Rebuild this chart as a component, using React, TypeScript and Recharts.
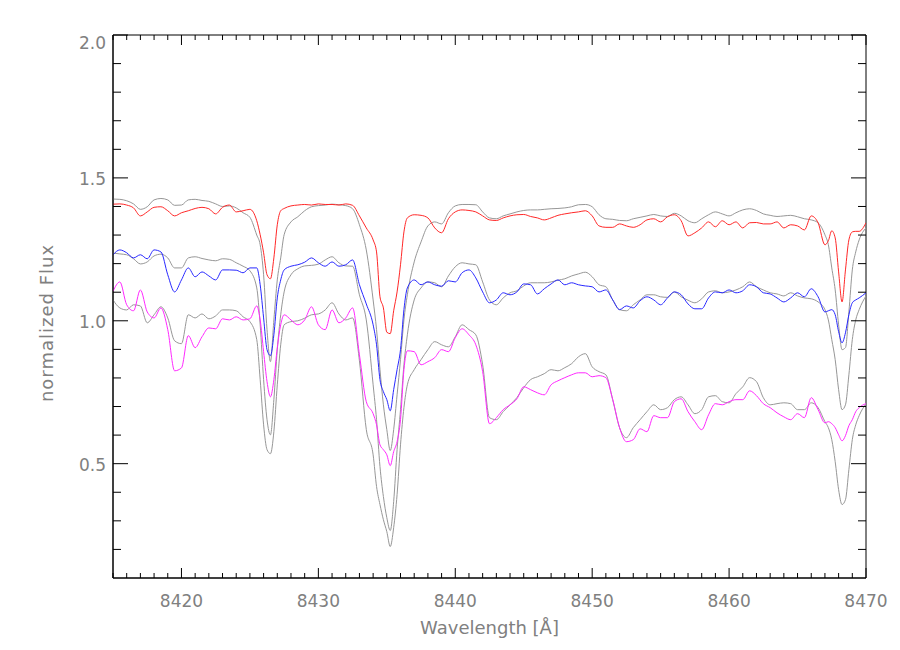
import { LineChart, Line, XAxis, YAxis, ReferenceArea } from 'recharts';

// wavelength grid (Å); finer steps around the three Ca II / line cores
const WAVE = [
  8415, 8415.5, 8416, 8416.5, 8417, 8417.5, 8418, 8418.5, 8419, 8419.5,
  8420, 8420.5, 8421, 8421.5, 8422, 8422.5, 8423, 8423.5, 8424, 8424.5,
  8425, 8425.5, 8425.75, 8426, 8426.25, 8426.5, 8426.75, 8427, 8427.25, 8427.5,
  8428, 8428.5, 8429, 8429.5, 8430, 8430.5, 8431, 8431.5, 8432, 8432.5,
  8433, 8433.5, 8434, 8434.25, 8434.5, 8434.75, 8435, 8435.25, 8435.5, 8435.75,
  8436, 8436.25, 8436.5, 8437, 8437.5, 8438, 8438.5, 8439, 8439.5, 8440,
  8440.5, 8441, 8441.5, 8442, 8442.5, 8443, 8443.5, 8444, 8444.5, 8445,
  8445.5, 8446, 8446.5, 8447, 8447.5, 8448, 8448.5, 8449, 8449.5, 8450,
  8450.5, 8451, 8451.5, 8452, 8452.5, 8453, 8453.5, 8454, 8454.5, 8455,
  8455.5, 8456, 8456.5, 8457, 8457.5, 8458, 8458.5, 8459, 8459.5, 8460,
  8460.5, 8461, 8461.5, 8462, 8462.5, 8463, 8463.5, 8464, 8464.5, 8465,
  8465.5, 8466, 8466.5, 8467, 8467.25, 8467.5, 8467.75, 8468, 8468.25, 8468.5,
  8468.75, 8469, 8469.25, 8469.5, 8470,
];

const RED = [
  1.408, 1.409, 1.405, 1.395, 1.367, 1.381, 1.397, 1.399, 1.385, 1.367,
  1.378, 1.385, 1.393, 1.397, 1.392, 1.374, 1.397, 1.405, 1.381, 1.385,
  1.390, 1.350, 1.301, 1.238, 1.161, 1.147, 1.220, 1.336, 1.385, 1.393,
  1.402, 1.405, 1.407, 1.405, 1.409, 1.407, 1.407, 1.405, 1.409, 1.404,
  1.367, 1.325, 1.283, 1.241, 1.084, 1.045, 0.960, 0.955, 1.035, 1.101,
  1.196, 1.311, 1.360, 1.371, 1.369, 1.360, 1.325, 1.308, 1.357, 1.381,
  1.388, 1.386, 1.381, 1.367, 1.353, 1.351, 1.360, 1.367, 1.371, 1.372,
  1.365, 1.360, 1.353, 1.360, 1.369, 1.374, 1.378, 1.381, 1.385, 1.367,
  1.332, 1.327, 1.327, 1.339, 1.332, 1.327, 1.336, 1.353, 1.357, 1.346,
  1.364, 1.371, 1.350, 1.297, 1.308, 1.325, 1.346, 1.329, 1.350, 1.336,
  1.346, 1.325, 1.343, 1.344, 1.339, 1.339, 1.346, 1.325, 1.336, 1.332,
  1.318, 1.367, 1.343, 1.266, 1.280, 1.315, 1.290, 1.171, 1.066, 1.178,
  1.283, 1.311, 1.313, 1.313, 1.343,
];

const MODEL_RED = [
  1.426, 1.425, 1.420, 1.409, 1.390, 1.399, 1.423, 1.428, 1.423, 1.404,
  1.405, 1.423, 1.425, 1.421, 1.418, 1.409, 1.400, 1.402, 1.395, 1.378,
  1.362, 1.300, 1.266, 1.161, 0.969, 0.857, 1.003, 1.143, 1.220, 1.301,
  1.346, 1.364, 1.385, 1.399, 1.403, 1.405, 1.408, 1.406, 1.403, 1.392,
  1.336, 1.248, 1.073, 0.969, 0.829, 0.706, 0.619, 0.546, 0.619, 0.741,
  0.864, 1.003, 1.091, 1.206, 1.276, 1.332, 1.346, 1.339, 1.378, 1.402,
  1.407, 1.407, 1.406, 1.381, 1.360, 1.357, 1.367, 1.374, 1.381, 1.386,
  1.388, 1.388, 1.390, 1.392, 1.393, 1.395, 1.399, 1.406, 1.407, 1.399,
  1.371, 1.357, 1.355, 1.351, 1.350, 1.357, 1.362, 1.367, 1.372, 1.367,
  1.365, 1.376, 1.367, 1.350, 1.343, 1.357, 1.371, 1.381, 1.374, 1.367,
  1.378, 1.388, 1.392, 1.386, 1.374, 1.369, 1.365, 1.367, 1.369, 1.364,
  1.357, 1.353, 1.343, 1.301, 1.266, 1.185, 1.108, 0.986, 0.899, 0.906,
  1.031, 1.178, 1.241, 1.283, 1.325,
];

const BLUE = [
  1.231, 1.248, 1.238, 1.220, 1.231, 1.217, 1.248, 1.241, 1.161, 1.101,
  1.143, 1.185, 1.154, 1.171, 1.157, 1.143, 1.178, 1.178, 1.177, 1.168,
  1.185, 1.185, 1.126, 1.010, 0.899, 0.878, 0.951, 1.080, 1.143, 1.178,
  1.191, 1.196, 1.205, 1.220, 1.203, 1.191, 1.206, 1.191, 1.196, 1.213,
  1.126, 1.059, 0.986, 0.916, 0.794, 0.752, 0.724, 0.685, 0.759, 0.829,
  0.899, 1.039, 1.115, 1.143, 1.126, 1.136, 1.126, 1.121, 1.140, 1.136,
  1.168, 1.178, 1.150, 1.101, 1.063, 1.073, 1.098, 1.091, 1.101, 1.129,
  1.126, 1.094, 1.112, 1.129, 1.143, 1.126, 1.133, 1.126, 1.122, 1.119,
  1.101, 1.108, 1.073, 1.039, 1.052, 1.045, 1.070, 1.084, 1.073, 1.056,
  1.080, 1.101, 1.091, 1.059, 1.042, 1.042, 1.080, 1.101, 1.098, 1.108,
  1.098, 1.105, 1.126, 1.119, 1.098, 1.094, 1.080, 1.066, 1.080, 1.098,
  1.084, 1.112, 1.084, 1.031, 1.035, 1.039, 1.021, 0.962, 0.923, 0.958,
  1.021, 1.063, 1.073, 1.080, 1.098,
];

const MODEL_BLUE = [
  1.237, 1.234, 1.231, 1.217, 1.199, 1.206, 1.227, 1.233, 1.220, 1.185,
  1.185, 1.220, 1.224, 1.218, 1.213, 1.210, 1.217, 1.215, 1.203, 1.191,
  1.175, 1.115, 0.986, 0.794, 0.654, 0.601, 0.724, 0.899, 1.021, 1.101,
  1.161, 1.182, 1.192, 1.194, 1.198, 1.213, 1.224, 1.203, 1.192, 1.191,
  1.091, 1.003, 0.776, 0.654, 0.490, 0.385, 0.311, 0.266, 0.367, 0.549,
  0.689, 0.846, 0.951, 1.073, 1.115, 1.136, 1.133, 1.119, 1.157, 1.189,
  1.203, 1.199, 1.196, 1.136, 1.073, 1.056, 1.080, 1.098, 1.105, 1.122,
  1.133, 1.133, 1.133, 1.136, 1.142, 1.147, 1.157, 1.164, 1.170, 1.154,
  1.126, 1.119, 1.073, 1.039, 1.035, 1.056, 1.073, 1.091, 1.091, 1.084,
  1.082, 1.101, 1.084, 1.072, 1.063, 1.077, 1.101, 1.105, 1.098, 1.101,
  1.108, 1.119, 1.136, 1.119, 1.108, 1.098, 1.094, 1.087, 1.098, 1.087,
  1.080, 1.077, 1.066, 1.039, 1.003, 0.934, 0.864, 0.759, 0.689, 0.706,
  0.811, 0.934, 1.003, 1.039, 1.087,
];

const MAGENTA = [
  1.103, 1.136, 1.056, 1.035, 1.108, 1.031, 1.010, 1.045, 0.969, 0.825,
  0.835, 0.948, 0.906, 0.944, 0.975, 0.972, 1.007, 1.003, 1.014, 1.003,
  1.007, 1.052, 1.003, 0.892, 0.787, 0.734, 0.794, 0.906, 0.986, 1.021,
  1.003, 0.986, 1.003, 1.049, 0.986, 0.969, 1.038, 0.993, 1.010, 1.045,
  0.881, 0.717, 0.675, 0.636, 0.566, 0.549, 0.531, 0.493, 0.542, 0.577,
  0.654, 0.829, 0.895, 0.892, 0.846, 0.857, 0.871, 0.899, 0.892, 0.941,
  0.972, 0.951, 0.916, 0.822, 0.640, 0.661, 0.689, 0.706, 0.727, 0.769,
  0.759, 0.748, 0.741, 0.776, 0.790, 0.801, 0.811, 0.818, 0.818, 0.804,
  0.808, 0.801, 0.724, 0.626, 0.577, 0.584, 0.622, 0.612, 0.668, 0.661,
  0.661, 0.717, 0.727, 0.682, 0.647, 0.619, 0.671, 0.710, 0.706, 0.717,
  0.724, 0.724, 0.755, 0.738, 0.710, 0.696, 0.678, 0.664, 0.654, 0.675,
  0.661, 0.731, 0.689, 0.643, 0.647, 0.640, 0.626, 0.601, 0.580, 0.598,
  0.633, 0.654, 0.682, 0.696, 0.710,
];

const MODEL_MAGENTA = [
  1.073, 1.045, 1.038, 1.056, 1.052, 0.993, 1.021, 1.049, 1.010, 0.930,
  0.920, 1.021, 1.010, 1.024, 1.007, 1.017, 1.038, 1.038, 1.035, 1.014,
  0.997, 0.934, 0.794, 0.636, 0.549, 0.535, 0.612, 0.776, 0.916, 0.986,
  0.997, 1.000, 1.009, 1.021, 1.024, 1.038, 1.063, 1.024, 1.003, 1.010,
  0.860, 0.620, 0.531, 0.420, 0.357, 0.304, 0.262, 0.210, 0.276, 0.392,
  0.566, 0.696, 0.776, 0.829, 0.864, 0.899, 0.927, 0.916, 0.909, 0.944,
  0.986, 0.969, 0.951, 0.846, 0.661, 0.654, 0.682, 0.706, 0.731, 0.766,
  0.794, 0.804, 0.815, 0.829, 0.825, 0.836, 0.850, 0.874, 0.885, 0.839,
  0.822, 0.811, 0.724, 0.626, 0.591, 0.626, 0.654, 0.682, 0.706, 0.689,
  0.696, 0.724, 0.734, 0.706, 0.675, 0.689, 0.734, 0.738, 0.717, 0.713,
  0.745, 0.769, 0.801, 0.787, 0.731, 0.706, 0.710, 0.713, 0.710, 0.689,
  0.689, 0.713, 0.696, 0.647, 0.626, 0.584, 0.507, 0.409, 0.357, 0.374,
  0.479, 0.584, 0.636, 0.668, 0.710,
];

const X_LABELS = [8420, 8430, 8440, 8450, 8460, 8470];
const Y_LABELS = [0.5, 1.0, 1.5, 2.0];
const X_TICKS = Array.from({ length: 56 }, (_, i) => 8415 + i);
const Y_TICKS = Array.from({ length: 19 }, (_, i) => Math.round((0.2 + i * 0.1) * 10) / 10);

const data = WAVE.map((w, i) => ({
  w,
  red: RED[i],
  modelRed: MODEL_RED[i],
  blue: BLUE[i],
  modelBlue: MODEL_BLUE[i],
  magenta: MAGENTA[i],
  modelMagenta: MODEL_MAGENTA[i],
}));

const W = 900;
const H = 650;
const MARGIN = { top: 35, right: 34, bottom: 42, left: 53 };
const Y_AXIS_W = 60;
const X_AXIS_H = 30;
const LEFT = MARGIN.left + Y_AXIS_W;
const RIGHT = W - MARGIN.right;
const TOP = MARGIN.top;
const BOTTOM = H - MARGIN.bottom - X_AXIS_H;

const FONT = '"DejaVu Sans ExtraLight", "DejaVu Sans", sans-serif';
const TEXT_GRAY = '#808080';
const MODEL_GRAY = '#979797';

function XTick(props: any) {
  const { x, payload } = props;
  const major = X_LABELS.includes(payload.value);
  const len = major ? 10 : 5;
  return (
    <g>
      <line x1={x} x2={x} y1={BOTTOM} y2={BOTTOM - len} stroke="#000" />
      <line x1={x} x2={x} y1={TOP} y2={TOP + len} stroke="#000" />
      {major && (
        <text x={x} y={BOTTOM + 29} textAnchor="middle" fontFamily={FONT} fontSize={17} fill={TEXT_GRAY}>
          {payload.value}
        </text>
      )}
    </g>
  );
}

function YTick(props: any) {
  const { y, payload } = props;
  const major = Y_LABELS.some((v) => Math.abs(v - payload.value) < 1e-6);
  const len = major ? 15 : 8;
  const dy = payload.value >= 1.99 ? 14 : 7;
  return (
    <g>
      <line x1={LEFT} x2={LEFT + len} y1={y} y2={y} stroke="#000" />
      <line x1={RIGHT - len} x2={RIGHT} y1={y} y2={y} stroke="#000" />
      {major && (
        <text x={106} y={y + dy} textAnchor="end" fontFamily={FONT} fontSize={17} fill={TEXT_GRAY}>
          {payload.value.toFixed(1)}
        </text>
      )}
    </g>
  );
}

export default function App() {
  return (
    <div style={{ position: 'absolute', left: 0, top: 0, width: W, height: H, background: '#fff' }}>
      <LineChart width={W} height={H} data={data} margin={MARGIN}>
        <XAxis
          dataKey="w"
          type="number"
          domain={[8415, 8470]}
          ticks={X_TICKS}
          interval={0}
          height={X_AXIS_H}
          tickLine={false}
          axisLine={{ stroke: '#000' }}
          tick={<XTick />}
          allowDataOverflow
        />
        <YAxis
          type="number"
          domain={[0.1, 2.0]}
          ticks={Y_TICKS}
          interval={0}
          width={Y_AXIS_W}
          tickLine={false}
          axisLine={{ stroke: '#000' }}
          tick={<YTick />}
          allowDataOverflow
        />
        <Line type="monotone" dataKey="modelRed" stroke={MODEL_GRAY} strokeWidth={1} dot={false} activeDot={false} isAnimationActive={false} />
        <Line type="monotone" dataKey="modelBlue" stroke={MODEL_GRAY} strokeWidth={1} dot={false} activeDot={false} isAnimationActive={false} />
        <Line type="monotone" dataKey="modelMagenta" stroke={MODEL_GRAY} strokeWidth={1} dot={false} activeDot={false} isAnimationActive={false} />
        <Line type="monotone" dataKey="red" stroke="#ff2828" strokeWidth={1} dot={false} activeDot={false} isAnimationActive={false} />
        <Line type="monotone" dataKey="blue" stroke="#2828ff" strokeWidth={1} dot={false} activeDot={false} isAnimationActive={false} />
        <Line type="monotone" dataKey="magenta" stroke="#ff28ff" strokeWidth={1} dot={false} activeDot={false} isAnimationActive={false} />
        <ReferenceArea x1={8415} x2={8470} y1={0.1} y2={2.0} fill="none" stroke="#000" strokeWidth={1} />
      </LineChart>
      <svg width={W} height={H} style={{ position: 'absolute', left: 0, top: 0, pointerEvents: 'none' }}>
        <text x={(LEFT + RIGHT) / 2} y={634} textAnchor="middle" fontFamily={FONT} fontSize={18} fill={TEXT_GRAY}>
          Wavelength [Å]
        </text>
        <text
          transform="translate(53, 323) rotate(-90)"
          textAnchor="middle"
          fontFamily={FONT}
          fontSize={18}
          letterSpacing={1}
          fill={TEXT_GRAY}
        >
          normalized Flux
        </text>
      </svg>
    </div>
  );
}
